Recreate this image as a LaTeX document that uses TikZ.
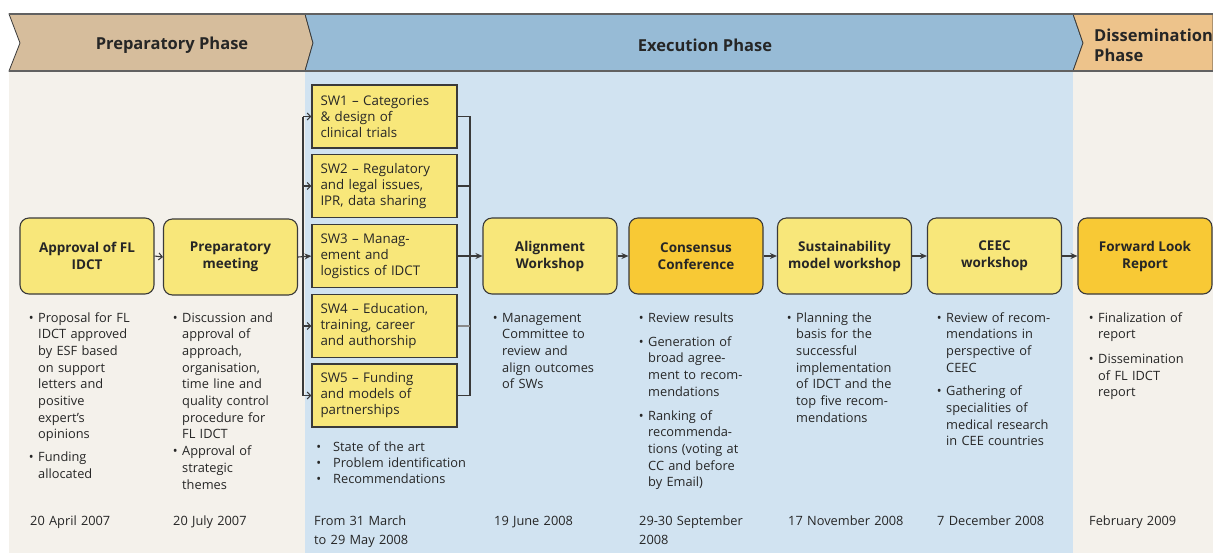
\documentclass[tikz,border=0pt]{standalone}
\usepackage{fontspec}
\setmainfont{Open Sans}
\usetikzlibrary{arrows.meta}
\definecolor{tanhead}{HTML}{D6BD9C}
\definecolor{bluehead}{HTML}{97BBD6}
\definecolor{orghead}{HTML}{EDC38B}
\definecolor{cream}{HTML}{F4F1EB}
\definecolor{lblue}{HTML}{D1E3F1}
\definecolor{ybox}{HTML}{F8E77A}
\definecolor{gbox}{HTML}{F8C935}
\definecolor{edge}{HTML}{3A3A3A}
\definecolor{txt}{HTML}{262626}
\newcommand{\bul}{\leavevmode\llap{\textbullet\hspace{4.5pt}}}
\newcommand{\swbul}{\leavevmode\llap{\textbullet\hspace{12pt}}}
\tikzset{
  every node/.style={text=txt},
  stagebox/.style={draw=edge, line width=1.1pt, rounded corners=9pt, fill=ybox,
    minimum width=134pt, minimum height=76pt, align=center, inner sep=0pt,
    font=\fontsize{13.5}{17}\selectfont\bfseries},
  swbox/.style={draw=edge, line width=1.1pt, fill=ybox, minimum width=145pt,
    minimum height=63pt, text width=128pt, align=left, inner sep=0pt,
    font=\fontsize{13.3}{16}\selectfont},
  bl/.style={anchor=base west, align=left, inner sep=0pt, text width=140pt,
    font=\fontsize{12.8}{16.7}\selectfont},
  datetxt/.style={anchor=base west, align=left, inner sep=0pt, text width=140pt,
    font=\fontsize{12.8}{19}\selectfont},
  headtxt/.style={inner sep=0pt, font=\fontsize{16.5}{20}\selectfont\bfseries},
  conn/.style={draw=edge, line width=1.1pt},
  fillarr/.style={conn, -{Stealth[length=7pt,width=6pt]}},
  openarr/.style={conn, -{Straight Barb[length=3.5pt,width=7pt]}},
}
\begin{document}
\begin{tikzpicture}[x=1pt,y=-1pt]
\useasboundingbox (0,0) rectangle (1213,558);
\fill[white] (0,0) rectangle (1213,558);
% panels
\fill[cream] (9,71) rectangle (305,553);
\fill[lblue] (305,71) rectangle (1073,553);
\fill[cream] (1073,71) rectangle (1213,553);
% header
\filldraw[fill=tanhead, draw=edge, line width=0.8pt] (9,14) -- (305,14) -- (313,43) -- (305,71) -- (9,71) -- (20,43) -- cycle;
\filldraw[fill=bluehead, draw=edge, line width=0.8pt] (305,14) -- (1073,14) -- (1083,43) -- (1073,71) -- (305,71) -- (313,43) -- cycle;
\filldraw[fill=orghead, draw=edge, line width=0.8pt] (1073,14) -- (1213,14) -- (1213,71) -- (1073,71) -- (1083,43) -- cycle;
\draw[edge!80, line width=2pt] (9,14) -- (1213,14);
\draw[edge!80, line width=1.2pt] (9,71) -- (1213,71);
\node[headtxt] (hprep) at (172,45) {Preparatory Phase};
\node[headtxt] (hexec) at (705,45) {Execution Phase};
\node[headtxt, anchor=west, align=left] (hdiss) at (1094,45) {Dissemination\\Phase};
% stage boxes
\node[stagebox] (appr) at (87,256) {Approval of FL\\IDCT};
\node[stagebox] (prep) at (230.5,257) {Preparatory\\meeting};
\node[stagebox] (algn) at (550,256) {Alignment\\Workshop};
\node[stagebox, fill=gbox] (cons) at (696,256) {Consensus\\Conference};
\node[stagebox] (sust) at (844.5,256) {Sustainability\\model workshop};
\node[stagebox] (ceec) at (994.5,256) {CEEC\\workshop};
\node[stagebox, fill=gbox] (fwd) at (1145,256) {Forward Look\\Report};
% SW boxes
\node[swbox] (sw1) at (384.5,116.5) {SW1 -- Categories\\\& design of\\clinical trials};
\node[swbox] (sw2) at (384.5,186) {SW2 -- Regulatory\\and legal issues,\\IPR, data sharing};
\node[swbox] (sw3) at (384.5,256) {SW3 -- Manag-\\ement and\\logistics of IDCT};
\node[swbox] (sw4) at (384.5,326) {SW4 -- Education,\\training, career\\and authorship};
\node[swbox] (sw5) at (384.5,395.5) {SW5 -- Funding\\and models of\\partnerships};
% connectors
\coordinate (lbus) at (303,0);
\coordinate (rbus) at (470,0);
\draw[openarr] (appr.east) -- (prep.west);
\draw[fillarr] (prep.east) -- (sw3.west);
\draw[conn] (lbus |- sw1.west) -- (lbus |- sw5.west);
\draw[openarr] (lbus |- sw1.west) -- (sw1.west);
\draw[openarr] (lbus |- sw2.west) -- (sw2.west);
\draw[openarr] (lbus |- sw4.west) -- (sw4.west);
\draw[openarr] (lbus |- sw5.west) -- (sw5.west);
\draw[conn] (sw1.east) -- (rbus |- sw1.east) -- (rbus |- sw5.east) -- (sw5.east);
\draw[conn] (sw2.east) -- (rbus |- sw2.east);
\draw[conn] (sw3.east) -- (rbus |- sw3.east);
\draw[conn, draw=edge!60] (sw4.east) -- (rbus |- sw4.east);
\draw[fillarr] (rbus |- sw3.east) -- (algn.west);
\draw[fillarr] (algn.east) -- (cons.west);
\draw[fillarr] (cons.east) -- (sust.west);
\draw[fillarr] (sust.east) -- (ceec.west);
\draw[fillarr] (ceec.east) -- (fwd.west);
% bullet texts
\node[bl] (tappr) at (38,322) {\bul Proposal for FL\\IDCT approved\\by ESF based\\on support\\letters and\\positive\\expert's\\opinions\\[6.3pt]\bul Funding\\allocated};
\node[bl] (tprep) at (182,322) {\bul Discussion and\\approval of\\approach,\\organisation,\\time line and\\quality control\\procedure for\\FL IDCT\\\bul Approval of\\strategic\\themes};
\node[bl, font=\fontsize{12.8}{16}\selectfont] (tsw) at (333,451) {\swbul State of the art\\\swbul Problem identification\\\swbul Recommendations};
\node[bl] (talgn) at (502,322) {\bul Management\\Committee to\\review and\\align outcomes\\of SWs};
\node[bl] (tcons) at (648,322) {\bul Review results\\[7.5pt]\bul Generation of\\broad agree-\\ment to recom-\\mendations\\[7pt]\bul Ranking of\\recommenda-\\tions (voting at\\CC and before\\by Email)};
\node[bl] (tsust) at (796,322) {\bul Planning the\\basis for the\\successful\\implementation\\of IDCT and the\\top five recom-\\mendations};
\node[bl] (tceec) at (946,322) {\bul Review of recom-\\mendations in\\perspective of\\CEEC\\[7pt]\bul Gathering of\\specialities of\\medical research\\in CEE countries};
\node[bl] (tfwd) at (1098,322) {\bul Finalization of\\report\\[8pt]\bul Dissemination\\of FL IDCT\\report};
% dates
\node[datetxt] (d1) at (30,525) {20 April 2007};
\node[datetxt] (d2) at (173,525) {20 July 2007};
\node[datetxt] (d3) at (314,525) {From 31 March\\to 29 May 2008};
\node[datetxt] (d4) at (494,525) {19 June 2008};
\node[datetxt] (d5) at (639,525) {29-30 September\\2008};
\node[datetxt] (d6) at (788,525) {17 November 2008};
\node[datetxt] (d7) at (937,525) {7 December 2008};
\node[datetxt] (d8) at (1089,525) {February 2009};
\end{tikzpicture}
\end{document}
